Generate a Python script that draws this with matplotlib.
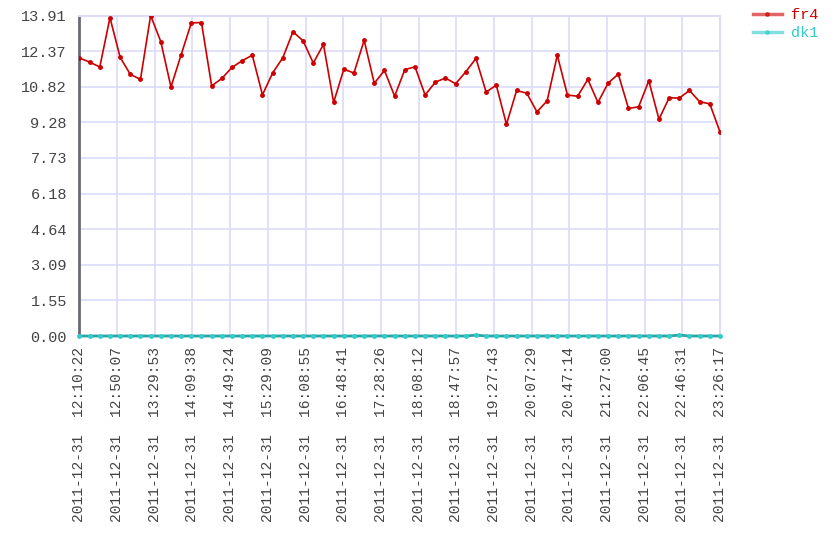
import numpy as np
import matplotlib
matplotlib.use("Agg")
import matplotlib.pyplot as plt

# sample values, one every ~10.7 minutes from 12:10:22 to 23:26:17
fr4 = [12.07, 11.89, 11.68, 13.82, 12.10, 11.36, 11.14, 13.914, 12.78, 10.81,
       12.21, 13.59, 13.61, 10.86, 11.18, 11.66, 11.95, 12.19, 10.47, 11.42,
       12.08, 13.21, 12.81, 11.85, 12.66, 10.14, 11.58, 11.42, 12.84, 10.97,
       11.53, 10.41, 11.56, 11.69, 10.46, 11.02, 11.20, 10.95, 11.47, 12.05,
       10.59, 10.89, 9.19, 10.66, 10.54, 9.73, 10.21, 12.19, 10.46, 10.41,
       11.14, 10.14, 10.98, 11.37, 9.88, 9.95, 11.08, 9.41, 10.34, 10.33,
       10.66, 10.17, 10.08, 8.86]
dk1 = [0.0] * 64
dk1[39] = 0.04
dk1[59] = 0.04

tick_labels = ["12:10:22", "12:50:07", "13:29:53", "14:09:38", "14:49:24",
               "15:29:09", "16:08:55", "16:48:41", "17:28:26", "18:08:12",
               "18:47:57", "19:27:43", "20:07:29", "20:47:14", "21:27:00",
               "22:06:45", "22:46:31", "23:26:17"]
tick_labels = ["2011-12-31  " + t for t in tick_labels]

mono = "Liberation Mono"
grid_col = "#dcdcf8"
text_col = "#444444"

fig = plt.figure(figsize=(8.4, 5.6), dpi=100)
ax = fig.add_axes([0.0946, 0.4, 0.7625, 0.5723])

x = np.arange(len(fr4))
ax.plot(x, fr4, color="#cc0000", lw=1.2, marker="o", ms=2.5, label="fr4", zorder=3)
ax.plot(x, dk1, color="#2aa6a6", lw=2, marker="o", ms=2.5, mfc="#33cccc",
        mec="#33cccc", label="dk1", zorder=4, clip_on=False)

ymax = max(fr4)
ax.set_xlim(0, len(fr4) - 1)
ax.set_ylim(0, ymax)
yt = np.linspace(0, ymax, 10)
ax.set_yticks(yt)
ax.set_yticklabels(["%.2f" % v for v in yt], family=mono, fontsize=11, color=text_col)
ax.set_xticks(np.linspace(0, len(fr4) - 1, len(tick_labels)))
ax.set_xticklabels(tick_labels, rotation=90, family=mono, fontsize=10.5, color=text_col)
ax.tick_params(axis="y", length=0, pad=9)
ax.tick_params(axis="x", length=0, pad=8)

ax.grid(True, color=grid_col, lw=1.2)
ax.set_axisbelow(True)
for s in ["top", "right", "bottom"]:
    ax.spines[s].set_color(grid_col)
    ax.spines[s].set_linewidth(1.5)
ax.spines["left"].set_color("#6a6a74")
ax.spines["left"].set_linewidth(2)

leg = ax.legend(loc="upper left", bbox_to_anchor=(1.03, 1.065), frameon=False,
                prop={"family": mono, "size": 11}, handlelength=1.9,
                handletextpad=0.6, labelspacing=0.25)
for h, t, c in zip(leg.legend_handles, leg.get_texts(), ["#cc0000", "#33cccc"]):
    t.set_color(c)
    h.set_color(c)
    h.set_alpha(0.6)
    h.set_linewidth(2.5)

fig.savefig("out.png", dpi=100)
